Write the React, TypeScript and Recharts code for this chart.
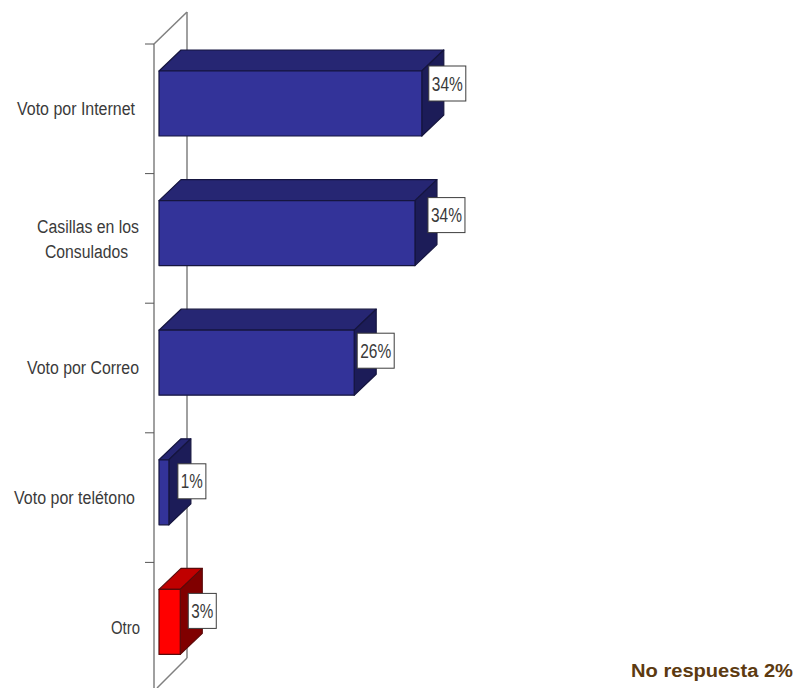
import { Bar, BarChart, LabelList, XAxis, YAxis } from 'recharts';

const categories = ['Voto por Internet', 'Casillas en los Consulados', 'Voto por Correo', 'Voto por teléfono', 'Otro'];
const tickLines = [['Voto por Internet'], ['Casillas en los', 'Consulados'], ['Voto por Correo'], ['Voto por telétono'], ['Otro']];
const values = [34.6, 33.7, 25.7, 1.3, 2.8];
const valueLabels = ['34%', '34%', '26%', '1%', '3%'];
const tones = ['blue', 'blue', 'blue', 'blue', 'red'];
const noAnswerNote = 'No respuesta 2%';

const data = categories.map((name, i) => ({ name, value: values[i], label: valueLabels[i], tone: tones[i] }));

// layout of the fake 3D box
const WIDTH = 797;
const HEIGHT = 688;
const AXIS_X = 154;
const PLOT_TOP = 44;
const PLOT_BOTTOM = 692;
const BAND = (PLOT_BOTTOM - PLOT_TOP) / categories.length;
const DEPTH_X = 22;
const DEPTH_Y = 21;
const BAR_SHIFT = -5;
const WALL = '#808080';
const TEXT_FONT = '"Liberation Sans", Arial, sans-serif';

const palettes: Record<string, { front: string; top: string; side: string; edge: string }> = {
  blue: { front: '#333399', top: '#262673', side: '#1c1c58', edge: '#15153f' },
  red: { front: '#ff0000', top: '#c00000', side: '#800000', edge: '#5a0a0a' },
};

// label box offsets from the bar's right end, the original ones were placed by hand
const labelNudges = [
  { dx: 7, dy: -20 },
  { dx: 13, dy: -18 },
  { dx: 3, dy: -12 },
  { dx: 9, dy: -11 },
  { dx: 8, dy: -11 },
];

// the source font is a narrow one, so each tick line gets its own left/right span
const tickSpans = [
  [{ left: 17, right: 135 }],
  [{ left: 37, right: 139 }, { left: 45, right: 128 }],
  [{ left: 27, right: 139 }],
  [{ left: 14, right: 135 }],
  [{ left: 111, right: 140 }],
];

function Box3D(props: any) {
  const { x, y, width, height, payload } = props;
  const c = palettes[payload.tone];
  const top = y + BAR_SHIFT;
  const right = x + width;
  const bottom = top + height;
  return (
    <g stroke={c.edge} strokeWidth={1.2} strokeLinejoin="round">
      <polygon
        points={`${x},${top} ${x + DEPTH_X},${top - DEPTH_Y} ${right + DEPTH_X},${top - DEPTH_Y} ${right},${top}`}
        fill={c.top}
      />
      <polygon
        points={`${right},${top} ${right + DEPTH_X},${top - DEPTH_Y} ${right + DEPTH_X},${bottom - DEPTH_Y} ${right},${bottom}`}
        fill={c.side}
      />
      <rect x={x} y={top} width={width} height={height} fill={c.front} />
    </g>
  );
}

function ValueBox(props: any) {
  const { x, y, width, height, value, index } = props;
  const nudge = labelNudges[index];
  const boxW = String(value).length > 2 ? 37 : 28;
  const boxH = 35;
  const cy = y + BAR_SHIFT + height / 2 + nudge.dy;
  const left = x + width + nudge.dx;
  return (
    <g>
      <rect x={left} y={cy - boxH / 2} width={boxW} height={boxH} fill="#fff" stroke="#3c3c3c" strokeWidth={1} />
      <text
        x={left + boxW / 2}
        y={cy + 7}
        textAnchor="middle"
        fontFamily={TEXT_FONT}
        fontSize={20}
        fill="#3a3a3a"
        textLength={boxW - 6}
        lengthAdjust="spacingAndGlyphs"
      >
        {value}
      </text>
    </g>
  );
}

function CategoryTick(props: any) {
  const { y, index } = props;
  const lines = tickLines[index];
  const lineGap = 25;
  const first = y + 6.3 - ((lines.length - 1) * lineGap) / 2 + (lines.length - 1) * 1;
  return (
    <g>
      <line x1={AXIS_X - 9} x2={AXIS_X} y1={y - BAND / 2} y2={y - BAND / 2} stroke="#555" />
      {lines.map((line, i) => (
        <text
          key={line}
          x={tickSpans[index][i].left}
          y={first + i * lineGap}
          fontFamily={TEXT_FONT}
          fontSize={18}
          fill="#3a3a3a"
          textLength={tickSpans[index][i].right - tickSpans[index][i].left}
          lengthAdjust="spacingAndGlyphs"
        >
          {line}
        </text>
      ))}
    </g>
  );
}

export default function App() {
  return (
    <div style={{ position: 'absolute', left: 0, top: 0, width: WIDTH, height: HEIGHT, overflow: 'hidden', background: '#fff' }}>
      <BarChart
        width={WIDTH}
        height={PLOT_BOTTOM + 8}
        data={data}
        layout="vertical"
        margin={{ top: PLOT_TOP, right: 0, bottom: 8, left: 0 }}
        barSize={65}
      >
        {/* back wall of the 3D plot */}
        <g stroke={WALL} strokeWidth={1.5} fill="none">
          <line x1={187} y1={12} x2={187} y2={658} />
          <line x1={187} y1={12} x2={AXIS_X} y2={PLOT_TOP} />
          <line x1={187} y1={658} x2={157} y2={688} />
        </g>
        <XAxis type="number" hide domain={[0, 84]} padding={{ left: 5, right: 0 }} />
        <YAxis
          type="category"
          dataKey="name"
          width={AXIS_X}
          axisLine={{ stroke: WALL, strokeWidth: 1.5 }}
          tickLine={false}
          interval={0}
          tick={<CategoryTick />}
        />
        <Bar dataKey="value" isAnimationActive={false} shape={<Box3D />}>
          <LabelList dataKey="label" content={<ValueBox />} />
        </Bar>
        <text
          x={631}
          y={677}
          fontFamily={TEXT_FONT}
          fontWeight="bold"
          fontSize={18}
          fill="#5c3a10"
          textLength={162}
          lengthAdjust="spacingAndGlyphs"
        >
          {noAnswerNote}
        </text>
      </BarChart>
    </div>
  );
}
